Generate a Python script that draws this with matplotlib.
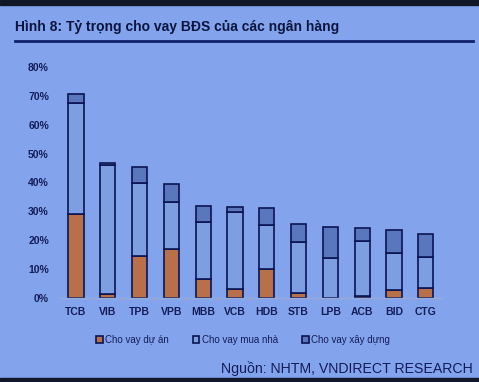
import numpy as np
import matplotlib
matplotlib.use("Agg")
import matplotlib.pyplot as plt
from matplotlib.patches import Rectangle

plt.rcParams["font.family"] = ["Liberation Sans", "DejaVu Sans"]

banks = ["TCB", "VIB", "TPB", "VPB", "MBB", "VCB", "HDB", "STB", "LPB", "ACB", "BID", "CTG"]
du_an = [29.0, 1.5, 14.6, 16.9, 6.8, 3.3, 10.2, 1.8, 0.0, 0.9, 2.9, 3.6]
mua_nha = [38.5, 44.5, 25.3, 16.5, 19.7, 26.6, 15.1, 17.6, 13.8, 19.0, 12.9, 10.8]
xay_dung = [3.0, 0.8, 5.3, 6.1, 5.4, 1.5, 6.0, 6.1, 10.9, 4.3, 7.7, 7.9]
yticks = [0, 10, 20, 30, 40, 50, 60, 70, 80]

c_bg = "#83a4ec"
c_orange = "#b8704a"
c_light = "#7d9fe2"
c_dark = "#5a77bd"
c_edge = "#0b1452"
c_text = "#141c5a"

fig = plt.figure(figsize=(4.79, 3.82), dpi=100, facecolor=c_bg)

# header/footer decorations in figure coords
fig.patches.append(Rectangle((0, 1 - 5 / 382), 1, 5 / 382, color="#101828",
                             transform=fig.transFigure, figure=fig))
fig.patches.append(Rectangle((0, 0), 1, 4 / 382, color="#101828",
                             transform=fig.transFigure, figure=fig))
fig.add_artist(plt.Line2D([15 / 479, 473 / 479], [1 - 41 / 382, 1 - 41 / 382],
                          color="#10206a", lw=2, transform=fig.transFigure))
fig.text(15 / 479, 1 - 27 / 382, "Hình 8: Tỷ trọng cho vay BĐS của các ngân hàng",
         fontsize=10, fontweight="bold", color="#0c1440", va="center", ha="left")
fig.text(473 / 479, 1 - 369 / 382, "Nguồn: NHTM, VNDIRECT RESEARCH",
         fontsize=10.2, color="#141c5a", va="center", ha="right")

ax = fig.add_axes([60 / 479, 83.7 / 382, 381.7 / 479, 231.6 / 382])
ax.patch.set_alpha(0)
x = np.arange(len(banks))
w = 0.48
kw = dict(width=w, edgecolor=c_edge, linewidth=1.2)
b1 = ax.bar(x, du_an, color=c_orange, label="Cho vay dự án", **kw)
b2 = ax.bar(x, mua_nha, bottom=du_an, color=c_light, label="Cho vay mua nhà", **kw)
bot3 = [a + b for a, b in zip(du_an, mua_nha)]
b3 = ax.bar(x, xay_dung, bottom=bot3, color=c_dark, label="Cho vay xây dựng", **kw)

ax.set_xlim(-0.5, 11.5)
ax.set_ylim(0, 80)
ax.set_yticks(yticks)
ax.set_yticklabels([f"{v}%" for v in yticks], fontweight="bold")
ax.set_xticks(x)
ax.set_xticklabels(banks, fontweight="bold")
for s in ["top", "right", "left"]:
    ax.spines[s].set_visible(False)
ax.spines["bottom"].set_color("#9aaad6")
ax.spines["bottom"].set_linewidth(1)
ax.tick_params(length=0, labelsize=7.5, labelcolor=c_text)
ax.tick_params(axis="y", pad=8)
ax.tick_params(axis="x", pad=6)

fig.legend(handles=[b1, b2, b3], loc="center left",
           bbox_to_anchor=(87 / 479, 1 - 340 / 382), ncol=3, frameon=False,
           fontsize=7, handlelength=0.7, handleheight=0.7, handletextpad=0.3,
           columnspacing=2.4, labelcolor=c_text)

fig.savefig("out.png", dpi=100, facecolor=c_bg)
